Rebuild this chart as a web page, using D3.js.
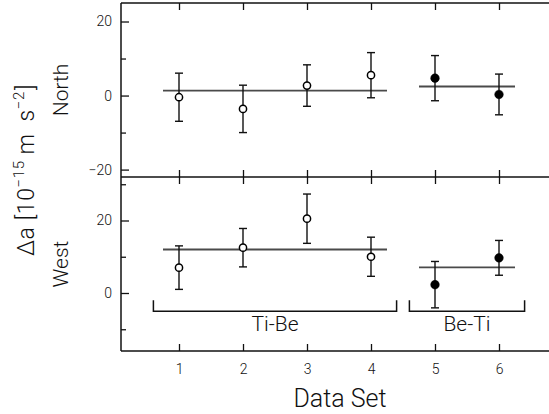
<!DOCTYPE html>
<html>
<head>
<meta charset="utf-8">
<script src="https://cdn.jsdelivr.net/npm/d3@7"></script>
<style>
  body { margin: 0; background: #fff; }
  svg { font-family: Roboto, "Liberation Sans", sans-serif; font-weight: 300; }
</style>
</head>
<body>
<svg id="chart" width="549" height="414"></svg>
<script>
// data
var dataSets = [1, 2, 3, 4, 5, 6];
var order    = ["Ti-Be", "Ti-Be", "Ti-Be", "Ti-Be", "Be-Ti", "Be-Ti"];
var northVal = [-0.45, -3.6, 2.7, 5.5, 4.7, 0.3];
var northErr = [6.5, 6.4, 5.6, 6.1, 6.1, 5.5];
var westVal  = [7.0, 12.5, 20.5, 10.0, 2.3, 9.7];
var westErr  = [6.0, 5.3, 6.8, 5.4, 6.4, 4.8];

var groups     = ["Ti-Be", "Be-Ti"];
var meanFrom   = [0.75, 4.75];
var meanTo     = [4.25, 6.25];
var northMean  = [1.35, 2.45];
var westMean   = [12.0, 7.05];
var bracketFrom = [0.6, 4.6];
var bracketTo   = [4.4, 6.4];

var left = 121, right = 560;
var top1 = 3, mid = 177, bottom = 351;

var svg = d3.select("#chart");

var x = d3.scaleLinear().domain([1, 6]).range([179, 499]);
var yNorth = d3.scaleLinear().domain([-22, 25]).range([mid, top1]);
var yWest  = d3.scaleLinear().domain([-16, 32]).range([bottom, mid]);

var panels = [
	{name: "North", y: yNorth, vals: northVal, errs: northErr, means: northMean,
	 major: [-20, 0, 20], minor: [-10, 10]},
	{name: "West", y: yWest, vals: westVal, errs: westErr, means: westMean,
	 major: [0, 20], minor: [-10, 10, 30]}
];

// frame
svg.append("g")
	.attr("stroke", "#111")
	.attr("stroke-width", 1.5)
	.selectAll("line")
	.data([[left, top1, right, top1], [left, mid, right, mid], [left, bottom, right, bottom], [left, top1, left, bottom]])
	.enter().append("line")
		.attr("x1", d => d[0]).attr("y1", d => d[1])
		.attr("x2", d => d[2]).attr("y2", d => d[3]);

// x ticks on top, divider and bottom
function xTicks(yPos, size) {
	var g = svg.append("g")
		.attr("transform", "translate(0," + yPos + ")")
		.call(d3.axisBottom(x).tickValues(dataSets).tickSize(size).tickFormat(""));
	g.select(".domain").remove();
	g.selectAll("line").attr("stroke", "#111").attr("stroke-width", 1.3);
}
xTicks(top1, 7);
xTicks(mid, 7);
xTicks(mid, -7);

var xAxis = svg.append("g")
	.attr("transform", "translate(0," + bottom + ")")
	.call(d3.axisBottom(x).tickValues(dataSets).tickSize(-7).tickPadding(13).tickFormat(d3.format("d")));
xAxis.select(".domain").remove();
xAxis.selectAll("line").attr("stroke", "#111").attr("stroke-width", 1.3);
xAxis.selectAll("text")
	.attr("font-size", 14)
	.attr("font-family", "Roboto, 'Liberation Sans', sans-serif")
	.attr("fill", "#111");

panels.forEach(function(p) {
	var gMaj = svg.append("g")
		.attr("transform", "translate(" + left + ",0)")
		.call(d3.axisLeft(p.y).tickValues(p.major).tickSize(-8).tickPadding(9).tickFormat(d3.format("d")));
	gMaj.select(".domain").remove();
	gMaj.selectAll("line").attr("stroke", "#111").attr("stroke-width", 1.3);
	gMaj.selectAll("text")
		.attr("font-size", 14)
		.attr("font-family", "Roboto, 'Liberation Sans', sans-serif")
		.attr("fill", "#111");

	var gMin = svg.append("g")
		.attr("transform", "translate(" + left + ",0)")
		.call(d3.axisLeft(p.y).tickValues(p.minor).tickSize(-5).tickFormat(""));
	gMin.select(".domain").remove();
	gMin.selectAll("line").attr("stroke", "#111").attr("stroke-width", 1.3);

	// group mean lines
	svg.append("g").selectAll("line")
		.data(groups)
		.enter().append("line")
			.attr("x1", (d, i) => x(meanFrom[i]))
			.attr("x2", (d, i) => x(meanTo[i]))
			.attr("y1", (d, i) => p.y(p.means[i]))
			.attr("y2", (d, i) => p.y(p.means[i]))
			.attr("stroke", "#4a4a4a")
			.attr("stroke-width", 1.8);

	// error bars
	var eb = svg.append("g")
		.attr("stroke", "#111")
		.attr("stroke-width", 1.4)
		.selectAll("g")
		.data(dataSets)
		.enter().append("g");
	eb.append("line")
		.attr("x1", d => x(d)).attr("x2", d => x(d))
		.attr("y1", (d, i) => p.y(p.vals[i] + p.errs[i]))
		.attr("y2", (d, i) => p.y(p.vals[i] - p.errs[i]));
	eb.append("line")
		.attr("x1", d => x(d) - 4).attr("x2", d => x(d) + 4)
		.attr("y1", (d, i) => p.y(p.vals[i] + p.errs[i]))
		.attr("y2", (d, i) => p.y(p.vals[i] + p.errs[i]));
	eb.append("line")
		.attr("x1", d => x(d) - 4).attr("x2", d => x(d) + 4)
		.attr("y1", (d, i) => p.y(p.vals[i] - p.errs[i]))
		.attr("y2", (d, i) => p.y(p.vals[i] - p.errs[i]));

	// points
	svg.append("g").selectAll("circle")
		.data(dataSets)
		.enter().append("circle")
			.attr("cx", d => x(d))
			.attr("cy", (d, i) => p.y(p.vals[i]))
			.attr("r", (d, i) => order[i] === "Ti-Be" ? 3.6 : 4.3)
			.attr("fill", (d, i) => order[i] === "Ti-Be" ? "#fff" : "#000")
			.attr("stroke", "#000")
			.attr("stroke-width", (d, i) => order[i] === "Ti-Be" ? 1.5 : 0.5);

	// panel label
	svg.append("text")
		.attr("transform", "translate(68," + ((p.y.range()[0] + p.y.range()[1]) / 2) + ") rotate(-90)")
		.attr("text-anchor", "middle")
		.attr("font-size", 21)
		.attr("fill", "#111")
		.text(p.name);
});

// brackets under the West panel
var bracketY = -5, bracketTop = -2;
var br = svg.append("g")
	.attr("fill", "none")
	.attr("stroke", "#111")
	.attr("stroke-width", 1.5);
br.selectAll("path")
	.data(groups)
	.enter().append("path")
		.attr("d", (d, i) => "M" + x(bracketFrom[i]) + "," + yWest(bracketTop) +
			"V" + yWest(bracketY) + "H" + x(bracketTo[i]) + "V" + yWest(bracketTop));

svg.append("g").selectAll("text")
	.data(groups)
	.enter().append("text")
		.attr("x", (d, i) => x((bracketFrom[i] + bracketTo[i]) / 2))
		.attr("y", yWest(bracketY) + 20)
		.attr("text-anchor", "middle")
		.attr("font-size", 21)
		.attr("fill", "#111")
		.text(d => d);

// axis titles
svg.append("text")
	.attr("x", 340)
	.attr("y", 407)
	.attr("text-anchor", "middle")
	.attr("font-size", 25)
	.attr("fill", "#111")
	.text("Data Set");

var yt = svg.append("text")
	.attr("transform", "translate(34,170) rotate(-90)")
	.attr("text-anchor", "middle")
	.attr("font-size", 23)
	.attr("letter-spacing", 0.6)
	.attr("fill", "#111");
yt.append("tspan").text("\u0394a [10");
yt.append("tspan").attr("font-size", 15).attr("dy", -10).text("\u221215");
yt.append("tspan").attr("dy", 10).attr("dx", 6).text("m");
yt.append("tspan").attr("dx", 12).text("s");
yt.append("tspan").attr("font-size", 15).attr("dy", -10).text("\u22122");
yt.append("tspan").attr("dy", 10).attr("dx", 1).text("]");
</script>
</body>
</html>
